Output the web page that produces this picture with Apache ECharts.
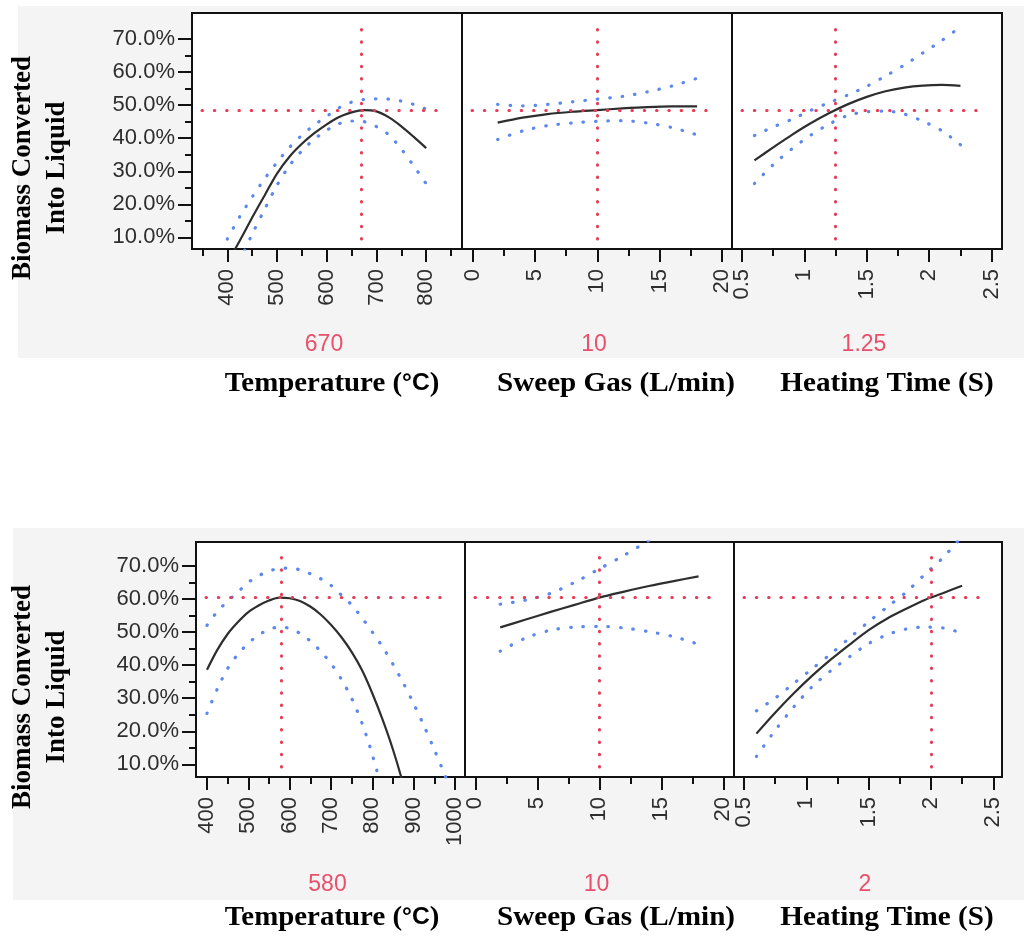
<!DOCTYPE html>
<html>
<head>
<meta charset="utf-8">
<script src="https://cdn.jsdelivr.net/npm/echarts@6/dist/echarts.min.js"></script>
<style>
html,body{margin:0;padding:0;background:#ffffff;}
#c{width:1027px;height:938px;}
</style>
</head>
<body>
<div id="c"></div>
<script>
// ---------------- Data ----------------
const yTickValues  = [10, 20, 30, 40, 50, 60, 70];
const yMinorValues = [15, 25, 35, 45, 55, 65];

const tempTicks1  = [400, 500, 600, 700, 800];
const tempMinor1  = [350, 450, 550, 650, 750, 850];
const tempTicks2  = [400, 500, 600, 700, 800, 900, 1000];
const tempMinor2  = [450, 550, 650, 750, 850, 950];
const sweepTicks  = [0, 5, 10, 15, 20];
const sweepMinor  = [2.5, 7.5, 12.5, 17.5];
const heatTicks   = [0.5, 1, 1.5, 2, 2.5];
const heatMinor   = [0.75, 1.25, 1.75, 2.25];

// Top profiler
const tempX1     = [400, 425, 450, 475, 500, 525, 550, 575, 600, 625, 650, 675, 700, 725, 750, 775, 800];
const tempMean1  = [2.3, 9.0, 16.0, 22.7, 29.3, 34.4, 38.3, 41.5, 44.2, 46.4, 47.8, 48.5, 48.1, 46.3, 43.6, 40.4, 37.0];
const tempUpper1 = [9.5, 16.3, 22.2, 27.7, 32.7, 37.2, 40.9, 44.0, 46.6, 49.2, 50.9, 51.7, 51.9, 51.8, 51.2, 50.2, 48.8];
const tempLower1 = [-4.0, 3.0, 11.0, 18.5, 25.8, 31.7, 36.2, 39.7, 42.4, 44.4, 45.2, 45.0, 43.5, 41.0, 36.7, 31.6, 26.2];

const sweepX      = [2, 4, 6, 8, 10, 12, 14, 16, 18];
const sweepMean1  = [44.7, 46.2, 47.3, 48.0, 48.5, 49.0, 49.4, 49.6, 49.6];
const sweepUpper1 = [50.2, 49.8, 50.2, 51.0, 51.8, 52.6, 54.0, 55.8, 58.1];
const sweepLower1 = [39.6, 42.2, 43.8, 44.6, 45.1, 45.3, 44.6, 43.2, 41.0];

const heatX      = [0.6, 0.75, 0.9, 1.05, 1.2, 1.35, 1.5, 1.65, 1.8, 1.95, 2.1, 2.25];
const heatMean1  = [33.3, 37.2, 41.0, 44.5, 47.6, 50.3, 52.5, 54.2, 55.3, 55.9, 56.1, 55.8];
const heatUpper1 = [40.8, 43.4, 45.7, 48.4, 50.8, 53.1, 55.7, 58.8, 62.1, 65.8, 69.5, 73.7];
const heatLower1 = [26.3, 32.0, 36.8, 40.9, 44.3, 46.9, 48.0, 48.2, 47.3, 45.1, 42.3, 38.0];

const current1       = [670, 10, 1.25];
const currentLabels1 = ['670', '10', '1.25'];
const predicted1     = 48.4;

// Bottom profiler
const tempX2     = [400, 425, 450, 475, 500, 525, 550, 575, 600, 625, 650, 675, 700, 725, 750, 775, 800, 825, 850, 875, 900, 925, 950, 975, 1000];
const tempMean2  = [38.6, 44.6, 49.4, 53.0, 56.0, 58.0, 59.5, 60.4, 60.2, 59.4, 57.7, 55.3, 52.2, 48.5, 44.0, 38.5, 31.5, 23.5, 14.5, 4.0, -8.0, null, null, null, null];
const tempUpper2 = [52.0, 56.2, 59.3, 62.1, 65.0, 67.0, 68.4, 69.2, 69.3, 68.8, 67.6, 66.1, 64.1, 61.2, 58.2, 54.3, 50.0, 45.5, 40.3, 34.6, 28.4, 21.7, 14.5, 7.0, -1.0];
const tempLower2 = [25.4, 32.8, 39.0, 43.3, 46.6, 49.1, 50.8, 51.5, 51.1, 49.6, 47.3, 44.2, 40.5, 35.8, 30.0, 22.5, 13.0, 1.5, -11.0, null, null, null, null, null, null];

const sweepMean2  = [51.4, 53.7, 56.0, 58.2, 60.4, 62.2, 63.9, 65.4, 66.8];
const sweepUpper2 = [58.4, 59.6, 61.6, 65.0, 69.1, 73.2, 77.7, 82.2, 87.3];
const sweepLower2 = [44.2, 48.1, 50.5, 51.5, 51.7, 51.2, 50.1, 48.6, 46.3];

const heatMean2  = [19.3, 25.6, 31.5, 36.9, 41.8, 46.3, 50.6, 54.1, 57.0, 59.7, 61.8, 64.0];
const heatUpper2 = [26.2, 30.0, 34.5, 39.0, 43.5, 48.3, 53.1, 57.6, 62.0, 67.4, 72.6, 79.0];
const heatLower2 = [12.4, 20.3, 27.4, 33.6, 38.4, 42.6, 46.5, 49.2, 50.9, 51.5, 51.2, 49.7];

const current2       = [580, 10, 2];
const currentLabels2 = ['580', '10', '2'];
const predicted2     = 60.4;

// ---------------- Layout / styling ----------------
const panels = [
  { box: {left: 192, top: 13,  width: 270, height: 236}, xr: [329, 872],    yr: [6.5, 77.85], ticks: tempTicks1, minor: tempMinor1, x: tempX1, m: tempMean1, u: tempUpper1, l: tempLower1, cur: current1[0], pred: predicted1, yLabels: true },
  { box: {left: 462, top: 13,  width: 270, height: 236}, xr: [-0.86, 20.8], yr: [6.5, 77.85], ticks: sweepTicks, minor: sweepMinor, x: sweepX, m: sweepMean1, u: sweepUpper1, l: sweepLower1, cur: current1[1], pred: predicted1 },
  { box: {left: 732, top: 13,  width: 270, height: 236}, xr: [0.42, 2.583], yr: [6.5, 77.85], ticks: heatTicks,  minor: heatMinor,  x: heatX,  m: heatMean1,  u: heatUpper1,  l: heatLower1,  cur: current1[2], pred: predicted1 },
  { box: {left: 196, top: 542, width: 269, height: 235}, xr: [373.4, 1024.4], yr: [6.2, 77.2], ticks: tempTicks2, minor: tempMinor2, x: tempX2, m: tempMean2, u: tempUpper2, l: tempLower2, cur: current2[0], pred: predicted2, yLabels: true },
  { box: {left: 465, top: 542, width: 269, height: 235}, xr: [-0.84, 20.86], yr: [6.2, 77.2], ticks: sweepTicks, minor: sweepMinor, x: sweepX, m: sweepMean2, u: sweepUpper2, l: sweepLower2, cur: current2[1], pred: predicted2 },
  { box: {left: 734, top: 542, width: 268, height: 235}, xr: [0.42, 2.57],  yr: [6.2, 77.2], ticks: heatTicks,  minor: heatMinor,  x: heatX,  m: heatMean2,  u: heatUpper2,  l: heatLower2,  cur: current2[2], pred: predicted2 }
];

const tickFont = 'Liberation Sans';
const tickColor = '#2e2e2e';
const blueStyle = { color: '#5c88ee', width: 3.2, type: [0.5, 12], cap: 'round' };
const redStyle  = { color: '#e63a55', width: 3, type: [0.5, 11.8], cap: 'round' };

const grids = [], xAxes = [], yAxes = [], series = [];

panels.forEach((p, g) => {
  grids.push(Object.assign({ show: true, backgroundColor: '#ffffff', borderColor: '#111111', borderWidth: 2, containLabel: false }, p.box));

  xAxes.push({
    type: 'value', gridIndex: g, min: p.xr[0], max: p.xr[1], position: 'bottom',
    axisLine: { show: false }, splitLine: { show: false },
    axisTick: { show: true, customValues: p.ticks, length: 13, lineStyle: { color: '#111', width: 2 } },
    axisLabel: { show: true, customValues: p.ticks, rotate: 90, margin: 20, fontSize: 22, fontFamily: tickFont, color: tickColor,
                 formatter: v => String(v) }
  });
  xAxes.push({
    type: 'value', gridIndex: g, min: p.xr[0], max: p.xr[1], position: 'bottom',
    axisLine: { show: false }, splitLine: { show: false },
    axisTick: { show: true, customValues: p.minor, length: 7, lineStyle: { color: '#111', width: 2 } },
    axisLabel: { show: false }
  });
  yAxes.push({
    type: 'value', gridIndex: g, min: p.yr[0], max: p.yr[1], position: 'left',
    axisLine: { show: false }, splitLine: { show: false },
    axisTick: { show: !!p.yLabels, customValues: yTickValues, length: 14, lineStyle: { color: '#111', width: 2 } },
    axisLabel: { show: !!p.yLabels, customValues: yTickValues, margin: 17, fontSize: 22, fontFamily: tickFont, color: tickColor,
                 formatter: v => v.toFixed(1) + '%' }
  });
  yAxes.push({
    type: 'value', gridIndex: g, min: p.yr[0], max: p.yr[1], position: 'left',
    axisLine: { show: false }, splitLine: { show: false },
    axisTick: { show: !!p.yLabels, customValues: yMinorValues, length: 7, lineStyle: { color: '#111', width: 2 } },
    axisLabel: { show: false }
  });

  const xi = 2 * g, yi = 2 * g;
  const pair = arr => p.x.map((x, i) => [x, arr[i]]);
  const xSpan = p.xr[1] - p.xr[0], ySpan = p.yr[1] - p.yr[0];
  const xLo = p.xr[0] + 10 / p.box.width * xSpan;
  const xHi = p.xr[1] - 19 / p.box.width * xSpan;
  const yLo = p.yr[0] + 10 / p.box.height * ySpan;
  const yHi = p.yr[1] - 11.5 / p.box.height * ySpan;

  series.push({
    type: 'line', xAxisIndex: xi, yAxisIndex: yi, data: [], silent: true, z: 1,
    markLine: {
      silent: true, symbol: 'none', label: { show: false }, animation: false,
      lineStyle: redStyle,
      data: [
        [{ coord: [p.cur, yLo] }, { coord: [p.cur, yHi] }],
        [{ coord: [xLo, p.pred] }, { coord: [xHi, p.pred] }]
      ]
    }
  });
  series.push({ type: 'line', xAxisIndex: xi, yAxisIndex: yi, data: pair(p.u), showSymbol: false, symbol: 'none', smooth: 0.3, clip: true, silent: true, lineStyle: blueStyle, z: 2 });
  series.push({ type: 'line', xAxisIndex: xi, yAxisIndex: yi, data: pair(p.l), showSymbol: false, symbol: 'none', smooth: 0.3, clip: true, silent: true, lineStyle: blueStyle, z: 2 });
  series.push({ type: 'line', xAxisIndex: xi, yAxisIndex: yi, data: pair(p.m), showSymbol: false, symbol: 'none', smooth: 0.3, clip: true, silent: true, lineStyle: { color: '#2e2e2e', width: 2.2 }, z: 3 });
});

// ---------------- Text / decorations ----------------
const serifBold = 'bold 27px "Liberation Serif"';
function centerText(x, y, text, font, fill, extra) {
  return Object.assign({ type: 'text', x: x, y: y, silent: true, z: 10,
    style: { text: text, font: font, fill: fill, align: 'center', verticalAlign: 'middle', textAlign: 'center', textVerticalAlign: 'middle' } }, extra || {});
}
function tempTitle(x, y) {
  return { type: 'text', x: x, y: y, scaleX: 1.07, silent: true, z: 10,
    style: { text: '{a|Temperature (}{b|°C}{a|)}', align: 'center', verticalAlign: 'middle', textAlign: 'center', textVerticalAlign: 'middle',
      rich: { a: { font: serifBold, fill: '#000' }, b: { font: 'bold 23px "Liberation Sans"', fill: '#000' } } } };
}
const yTitleStyle = { text: 'Biomass Converted\nInto Liquid', font: serifBold, fill: '#000', lineHeight: 34, align: 'center', verticalAlign: 'middle', textAlign: 'center', textVerticalAlign: 'middle' };

const graphics = [
  { type: 'rect', shape: { x: 18, y: 6, width: 1006, height: 352 }, style: { fill: '#f4f4f4' }, z: -100, silent: true },
  { type: 'rect', shape: { x: 13, y: 528, width: 1011, height: 372 }, style: { fill: '#f4f4f4' }, z: -100, silent: true },
  { type: 'text', x: 40, y: 168, rotation: Math.PI / 2, silent: true, z: 10, style: yTitleStyle },
  { type: 'text', x: 40, y: 697, rotation: Math.PI / 2, silent: true, z: 10, style: yTitleStyle },
  tempTitle(332, 384),
  centerText(616, 384, 'Sweep Gas (L/min)', serifBold, '#000', { scaleX: 1.08 }),
  centerText(887, 384, 'Heating Time (S)', serifBold, '#000', { scaleX: 1.08 }),
  tempTitle(332, 918),
  centerText(616, 918, 'Sweep Gas (L/min)', serifBold, '#000', { scaleX: 1.08 }),
  centerText(887, 918, 'Heating Time (S)', serifBold, '#000', { scaleX: 1.08 })
];
const valueFont = '23px "Liberation Sans"';
currentLabels1.forEach((t, i) => {
  const b = panels[i].box;
  graphics.push(centerText(b.left + b.width / 2 - 3, 345, t, valueFont, '#e8506b'));
});
currentLabels2.forEach((t, i) => {
  const b = panels[i + 3].box;
  graphics.push(centerText(b.left + b.width / 2 - 3, 885, t, valueFont, '#e8506b'));
});

const chart = echarts.init(document.getElementById('c'), null, { renderer: 'canvas' });
chart.setOption({
  animation: false,
  backgroundColor: '#ffffff',
  grid: grids,
  xAxis: xAxes,
  yAxis: yAxes,
  series: series,
  graphic: { elements: graphics }
});
</script>
</body>
</html>
